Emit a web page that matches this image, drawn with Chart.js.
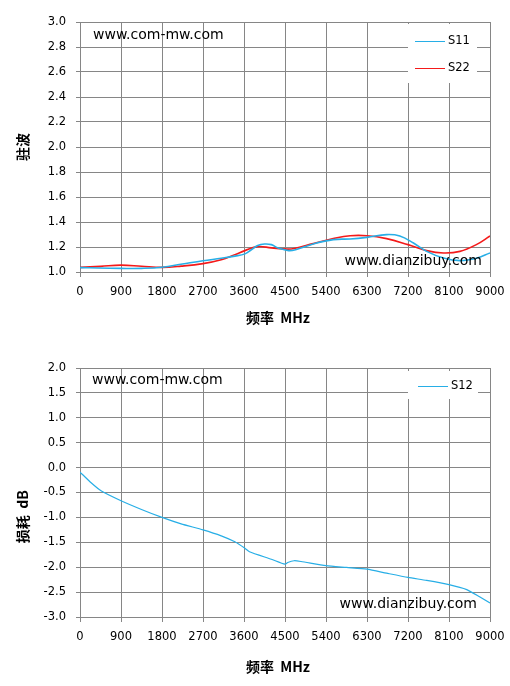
<!DOCTYPE html>
<html>
<head>
<meta charset="utf-8">
<script src="https://cdn.jsdelivr.net/npm/chart.js@4/dist/chart.umd.min.js"></script>
<style>
html, body { margin: 0; padding: 0; background: #fff; }
#wrap { position: relative; width: 510px; height: 686px; }
canvas { position: absolute; left: 0; }
</style>
</head>
<body>
<div id="wrap">
    <canvas id="vswrChart" width="510" height="330" style="top:0"></canvas>
    <canvas id="lossChart" width="510" height="356" style="top:330px"></canvas>
</div>
<script>
// --- data ---
const freqTicks = [0, 900, 1800, 2700, 3600, 4500, 5400, 6300, 7200, 8100, 9000];
const vswrTicks = [1.0, 1.2, 1.4, 1.6, 1.8, 2.0, 2.2, 2.4, 2.6, 2.8, 3.0];
const lossTicks = [-3.0, -2.5, -2.0, -1.5, -1.0, -0.5, 0.0, 0.5, 1.0, 1.5, 2.0];

const freqS11 = [0, 400, 900, 1350, 1800, 2250, 2700, 3100, 3400, 3620, 3760, 3900, 4050, 4200, 4350, 4580, 4750, 5120, 5560, 5930, 6300, 6730, 7020, 7320, 7610, 7980, 8340, 8700, 9000];
const vswrS11 = [1.035, 1.032, 1.029, 1.029, 1.038, 1.064, 1.090, 1.110, 1.127, 1.145, 1.178, 1.212, 1.224, 1.219, 1.192, 1.171, 1.180, 1.224, 1.259, 1.264, 1.277, 1.299, 1.288, 1.232, 1.165, 1.112, 1.091, 1.110, 1.152];

const freqS22 = [0, 450, 900, 1350, 1800, 2220, 2700, 3100, 3400, 3620, 3900, 4200, 4550, 4700, 5120, 5560, 5930, 6300, 6730, 7200, 7610, 7980, 8340, 8700, 9000];
const vswrS22 = [1.037, 1.045, 1.055, 1.046, 1.037, 1.047, 1.067, 1.098, 1.139, 1.171, 1.203, 1.193, 1.183, 1.188, 1.227, 1.267, 1.290, 1.290, 1.267, 1.219, 1.171, 1.152, 1.165, 1.219, 1.288];

const freqS12 = [0, 250, 470, 900, 1350, 1800, 2220, 2700, 3100, 3400, 3620, 3720, 4200, 4500, 4560, 4700, 4850, 5400, 5850, 6300, 6730, 7200, 7610, 8100, 8490, 8780, 9000];
const lossS12 = [-0.09, -0.31, -0.47, -0.665, -0.84, -1.0, -1.13, -1.25, -1.37, -1.49, -1.62, -1.69, -1.84, -1.94, -1.905, -1.87, -1.885, -1.97, -2.005, -2.04, -2.12, -2.205, -2.265, -2.35, -2.45, -2.6, -2.72];

const BLUE = '#27aee6';
const RED = '#f41a1a';
const GRID = '#868686';

function points(xs, ys) {
    return xs.map(function(x, i) { return { x: x, y: ys[i] }; });
}

// watermarks + legend box drawn inside the plot area
const overlayPlugin = {
    id: 'overlay',
    afterDatasetsDraw(chart, args, opts) {
        const ctx = chart.ctx;
        const a = chart.chartArea;
        ctx.save();
        ctx.font = '14px "DejaVu Sans"';
        ctx.fillStyle = '#000';
        ctx.textBaseline = 'middle';
        ctx.textAlign = 'left';
        ctx.fillText('www.com-mw.com', a.left + opts.mark1[0], a.top + opts.mark1[1]);
        ctx.textAlign = 'right';
        ctx.fillText('www.dianzibuy.com', a.right - opts.mark2[0], a.bottom - opts.mark2[1]);

        const lg = opts.legend;
        ctx.fillStyle = '#fff';
        ctx.fillRect(a.right - lg.box[0], a.top + lg.box[1], lg.box[2], lg.box[3]);
        ctx.font = '11.5px "DejaVu Sans"';
        ctx.textAlign = 'left';
        chart.data.datasets.forEach(function(ds, i) {
            const y = Math.round(a.top + lg.firstY + i * lg.gap) + 0.5;
            ctx.strokeStyle = ds.borderColor;
            ctx.lineWidth = 1;
            ctx.beginPath();
            ctx.moveTo(a.right - lg.line[0], y);
            ctx.lineTo(a.right - lg.line[1], y);
            ctx.stroke();
            ctx.fillStyle = '#000';
            ctx.fillText(ds.label, a.right - lg.textX, y);
        });
        ctx.restore();
    }
};

const tickFont = { family: '"DejaVu Sans"', size: 11.5 };
const titleFont = { family: '"Noto Sans CJK SC"', size: 14, weight: 'bold' };

function xScale(titleText, height, titlePad) {
    return {
        type: 'linear',
        min: 0,
        max: 9000,
        afterBuildTicks: function(scale) {
            scale.ticks = freqTicks.map(function(v) { return { value: v }; });
        },
        afterFit: function(scale) {
            scale.height = height;
            scale.paddingLeft = 0;
            scale.paddingRight = 0;
        },
        ticks: {
            font: tickFont,
            color: '#000',
            padding: 8,
            maxRotation: 0,
            autoSkip: false,
            callback: function(value) { return String(value); }
        },
        grid: { color: GRID, tickLength: 5 },
        border: { color: GRID },
        title: {
            display: true,
            text: titleText,
            font: titleFont,
            color: '#000',
            padding: { top: 0, bottom: titlePad }
        }
    };
}

function yScale(tickValues, titleText) {
    return {
        type: 'linear',
        min: tickValues[0],
        max: tickValues[tickValues.length - 1],
        afterBuildTicks: function(scale) {
            scale.ticks = tickValues.map(function(v) { return { value: v }; });
        },
        afterFit: function(scale) { scale.width = 80; },
        ticks: {
            font: tickFont,
            color: '#000',
            padding: 10,
            autoSkip: false,
            callback: function(value) { return Number(value).toFixed(1); }
        },
        grid: { color: GRID, tickLength: 4 },
        border: { color: GRID },
        title: {
            display: true,
            text: titleText,
            font: titleFont,
            color: '#000',
            padding: { top: 14, bottom: 0 }
        }
    };
}

// VSWR chart
new Chart(document.getElementById('vswrChart').getContext('2d'), {
    type: 'line',
    data: {
        datasets: [{
            label: 'S11',
            data: points(freqS11, vswrS11),
            borderColor: BLUE,
            borderWidth: 1.6,
            pointRadius: 0,
            tension: 0.4
        }, {
            label: 'S22',
            data: points(freqS22, vswrS22),
            borderColor: RED,
            borderWidth: 1.6,
            pointRadius: 0,
            tension: 0.4
        }]
    },
    options: {
        responsive: false,
        animation: false,
        layout: { padding: { top: 22, right: 20, bottom: 0, left: 0 } },
        plugins: {
            legend: { display: false },
            tooltip: { enabled: false },
            overlay: {
                mark1: [13, 13],
                mark2: [8, 11],
                legend: { box: [82, 2, 69, 59], firstY: 19, gap: 27, line: [75, 45], textX: 42 }
            }
        },
        scales: {
            x: xScale('频率  MHz\u3000', 58, 4),
            y: yScale(vswrTicks, '驻波')
        }
    },
    plugins: [overlayPlugin]
});

// Insertion loss chart
new Chart(document.getElementById('lossChart').getContext('2d'), {
    type: 'line',
    data: {
        datasets: [{
            label: 'S12',
            data: points(freqS12, lossS12),
            borderColor: BLUE,
            borderWidth: 1.2,
            pointRadius: 0,
            tension: 0.2
        }]
    },
    options: {
        responsive: false,
        animation: false,
        layout: { padding: { top: 38, right: 20, bottom: 0, left: 0 } },
        plugins: {
            legend: { display: false },
            tooltip: { enabled: false },
            overlay: {
                mark1: [12, 12],
                mark2: [13, 13],
                legend: { box: [82, 3, 70, 28], firstY: 18, gap: 0, line: [72, 42], textX: 39 }
            }
        },
        scales: {
            x: xScale('频率  MHz\u3000', 69, 11),
            y: yScale(lossTicks, '损耗  dB\u3000\u3000\u3000\u00a0\u00a0')
        }
    },
    plugins: [overlayPlugin]
});
</script>
</body>
</html>
